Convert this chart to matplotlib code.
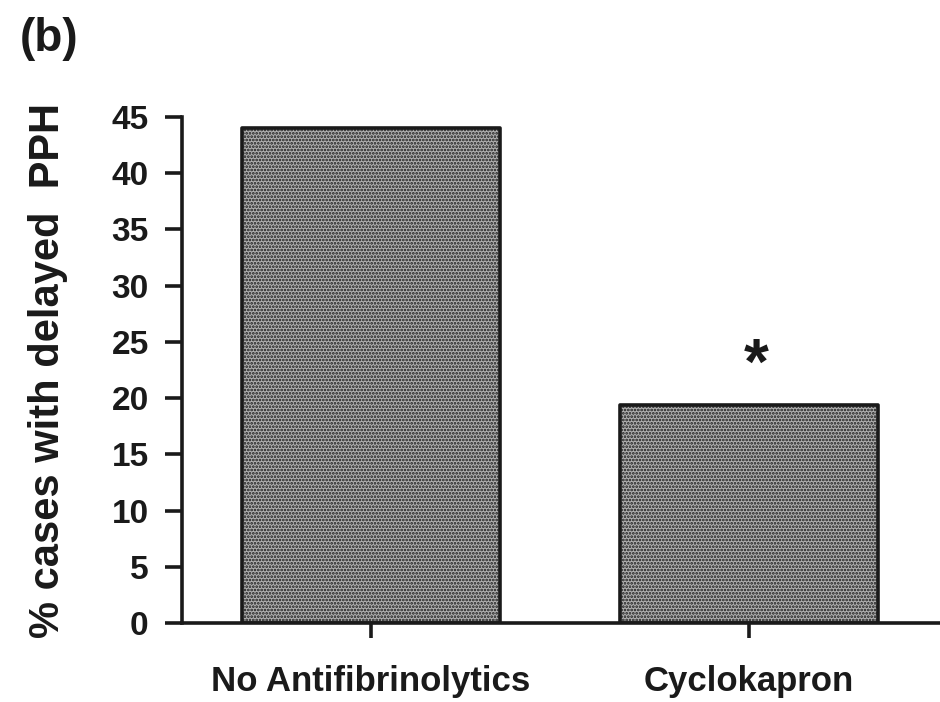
import matplotlib
matplotlib.use('Agg')
import matplotlib.pyplot as plt

categories = ['No Antifibrinolytics', 'Cyclokapron']
pph_pct = [44.0, 19.4]
y_ticks = [0, 5, 10, 15, 20, 25, 30, 35, 40, 45]
star_x, star_y = 1.02, 22.8

plt.rcParams['font.family'] = ['Liberation Sans', 'DejaVu Sans']
plt.rcParams['hatch.linewidth'] = 1.3
plt.rcParams['hatch.color'] = '#333333'

fig = plt.figure(figsize=(9.4, 7.02), dpi=100)
ax = fig.add_axes([0.1936, 0.1125, 0.8064, 0.7208])

x = list(range(len(categories)))
ax.bar(x, pph_pct, width=0.684, facecolor='#b0b0b0', edgecolor='#1a1a1a',
       linewidth=2.6, hatch='.....', joinstyle='round', zorder=2)

ax.text(star_x, star_y, '*', ha='center', va='center', fontsize=46,
        fontweight='bold', color='#1a1a1a')

ax.set_xlim(-0.5, 1.505)
ax.set_ylim(0, 45)
ax.set_yticks(y_ticks)
ax.set_xticks(x)
ax.set_xticklabels(categories)

for side in ('top', 'right'):
    ax.spines[side].set_visible(False)
for side in ('left', 'bottom'):
    ax.spines[side].set_linewidth(2.6)
    ax.spines[side].set_color('#1a1a1a')

ax.tick_params(axis='y', direction='out', length=12, width=2.6, pad=12,
               labelsize=24, colors='#1a1a1a')
ax.tick_params(axis='x', direction='out', length=11, width=2.6, pad=19,
               labelsize=25, colors='#1a1a1a')
for lbl in ax.get_xticklabels() + ax.get_yticklabels():
    lbl.set_fontweight('bold')

ax.set_ylabel('% cases with delayed  PPH', fontsize=30, fontweight='bold',
              color='#1a1a1a')
ax.yaxis.set_label_coords(-0.150, 0.50)

fig.text(0.021, 0.945, '(b)', fontsize=33, fontweight='bold', color='#1a1a1a',
         ha='left', va='center')

fig.savefig('out.png', dpi=100, facecolor='white')
